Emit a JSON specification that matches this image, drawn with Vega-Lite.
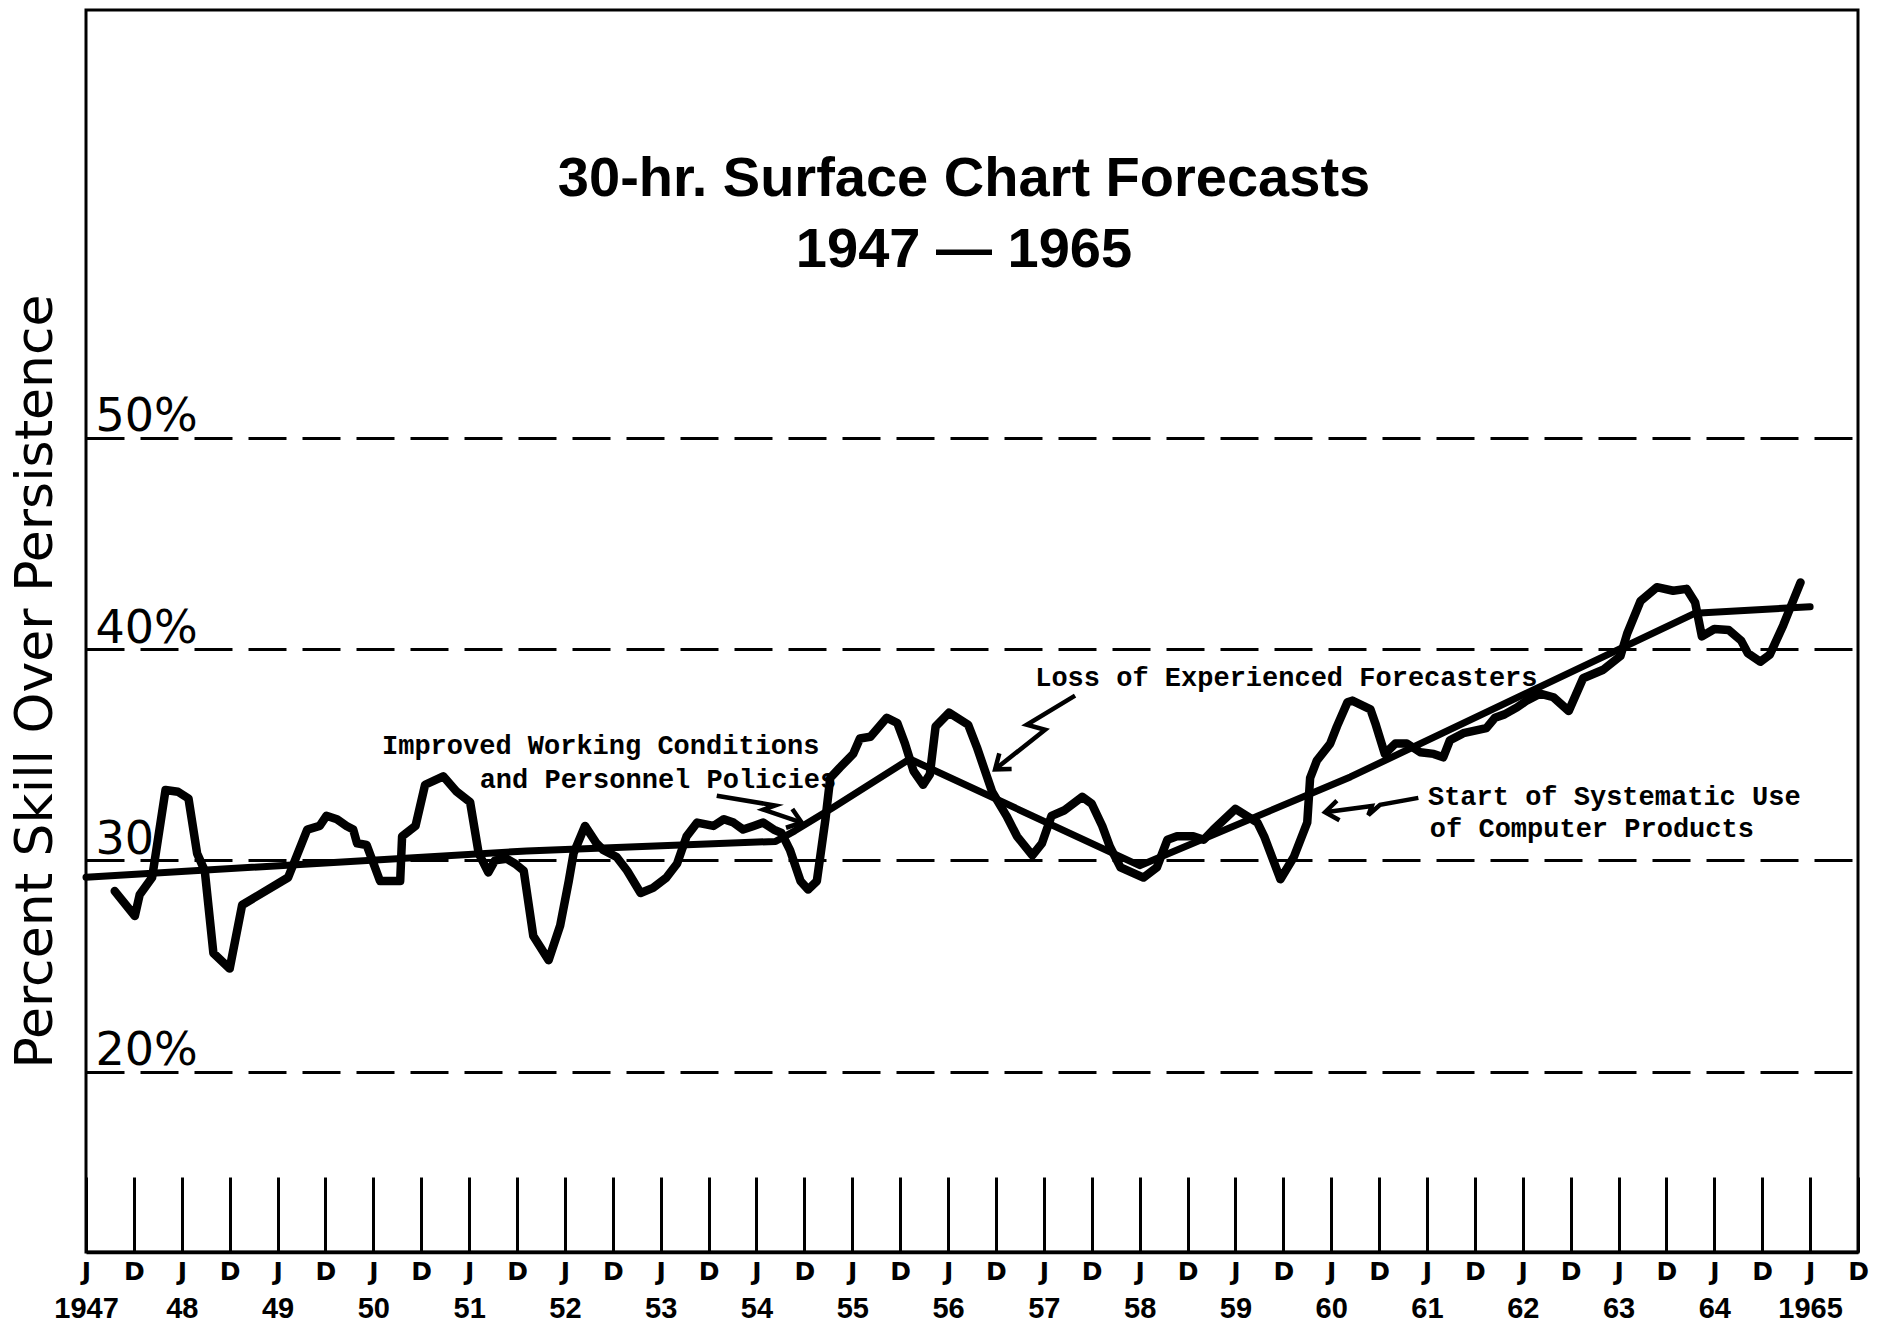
{
  "$schema": "https://vega.github.io/schema/vega-lite/v6.json",
  "width": 1772,
  "height": 1242,
  "autosize": {"type": "none"},
  "padding": {"left": 86, "top": 10, "right": 27, "bottom": 74},
  "background": "white",
  "title": {
    "text": ["30-hr.  Surface Chart Forecasts", "1947 — 1965"],
    "anchor": "middle", "frame": "group", "orient": "top", "baseline": "top",
    "offset": -269, "dx": -8,
    "font": "Liberation Sans", "fontSize": 56, "fontWeight": "bold", "color": "black", "lineHeight": 71
  },
  "config": {"view": {"stroke": "black", "strokeWidth": 3}},
  "datasets": {
    "monthly": [
      {"year":1947.80,"skill":28.55},{"year":1948.01,"skill":27.37},{"year":1948.06,"skill":28.37},{"year":1948.19,"skill":29.19},{"year":1948.33,"skill":33.33},{"year":1948.46,"skill":33.25},{"year":1948.57,"skill":32.93},{"year":1948.66,"skill":30.33},{"year":1948.74,"skill":29.51},{"year":1948.83,"skill":25.61},{"year":1949.00,"skill":24.88},{"year":1949.13,"skill":27.89},{"year":1949.61,"skill":29.19},{"year":1949.81,"skill":31.46},{"year":1949.94,"skill":31.63},{"year":1950.01,"skill":32.11},{"year":1950.12,"skill":31.95},{"year":1950.22,"skill":31.63},{"year":1950.29,"skill":31.46},{"year":1950.33,"skill":30.81},{"year":1950.43,"skill":30.73},{"year":1950.57,"skill":29.02},{"year":1950.78,"skill":29.02},{"year":1950.80,"skill":31.14},{"year":1950.94,"skill":31.63},{"year":1951.04,"skill":33.58},{"year":1951.23,"skill":33.98},{"year":1951.37,"skill":33.25},{"year":1951.51,"skill":32.76},{"year":1951.60,"skill":30.33},{"year":1951.70,"skill":29.43},{"year":1951.77,"skill":30.00},{"year":1951.89,"skill":30.08},{"year":1951.98,"skill":29.84},{"year":1952.07,"skill":29.51},{"year":1952.17,"skill":26.42},{"year":1952.33,"skill":25.28},{"year":1952.45,"skill":26.91},{"year":1952.54,"skill":29.02},{"year":1952.59,"skill":30.33},{"year":1952.71,"skill":31.63},{"year":1952.83,"skill":30.81},{"year":1952.90,"skill":30.49},{"year":1953.04,"skill":30.16},{"year":1953.15,"skill":29.51},{"year":1953.29,"skill":28.46},{"year":1953.42,"skill":28.70},{"year":1953.56,"skill":29.19},{"year":1953.67,"skill":29.84},{"year":1953.77,"skill":31.14},{"year":1953.88,"skill":31.79},{"year":1954.05,"skill":31.63},{"year":1954.16,"skill":31.95},{"year":1954.26,"skill":31.79},{"year":1954.36,"skill":31.46},{"year":1954.47,"skill":31.63},{"year":1954.57,"skill":31.79},{"year":1954.68,"skill":31.46},{"year":1954.76,"skill":31.30},{"year":1954.85,"skill":30.49},{"year":1954.96,"skill":29.02},{"year":1955.04,"skill":28.62},{"year":1955.13,"skill":29.02},{"year":1955.22,"skill":31.95},{"year":1955.27,"skill":33.90},{"year":1955.37,"skill":34.39},{"year":1955.51,"skill":35.04},{"year":1955.58,"skill":35.77},{"year":1955.69,"skill":35.85},{"year":1955.86,"skill":36.75},{"year":1955.97,"skill":36.50},{"year":1956.05,"skill":35.53},{"year":1956.14,"skill":34.23},{"year":1956.24,"skill":33.58},{"year":1956.31,"skill":34.07},{"year":1956.37,"skill":36.34},{"year":1956.51,"skill":36.99},{"year":1956.71,"skill":36.42},{"year":1956.80,"skill":35.37},{"year":1956.96,"skill":33.25},{"year":1957.11,"skill":32.11},{"year":1957.22,"skill":31.14},{"year":1957.38,"skill":30.24},{"year":1957.48,"skill":30.81},{"year":1957.58,"skill":32.11},{"year":1957.71,"skill":32.36},{"year":1957.90,"skill":33.01},{"year":1958.00,"skill":32.68},{"year":1958.11,"skill":31.63},{"year":1958.19,"skill":30.65},{"year":1958.30,"skill":29.67},{"year":1958.54,"skill":29.19},{"year":1958.68,"skill":29.67},{"year":1958.79,"skill":30.98},{"year":1958.89,"skill":31.14},{"year":1959.06,"skill":31.14},{"year":1959.17,"skill":30.98},{"year":1959.27,"skill":31.46},{"year":1959.50,"skill":32.44},{"year":1959.73,"skill":31.79},{"year":1959.80,"skill":31.14},{"year":1959.97,"skill":29.11},{"year":1960.11,"skill":30.16},{"year":1960.25,"skill":31.79},{"year":1960.28,"skill":33.90},{"year":1960.35,"skill":34.72},{"year":1960.49,"skill":35.53},{"year":1960.56,"skill":36.34},{"year":1960.67,"skill":37.48},{"year":1960.72,"skill":37.56},{"year":1960.91,"skill":37.15},{"year":1960.96,"skill":36.50},{"year":1961.06,"skill":35.04},{"year":1961.17,"skill":35.53},{"year":1961.29,"skill":35.53},{"year":1961.43,"skill":35.12},{"year":1961.57,"skill":35.04},{"year":1961.67,"skill":34.88},{"year":1961.74,"skill":35.69},{"year":1961.88,"skill":36.02},{"year":1962.12,"skill":36.26},{"year":1962.21,"skill":36.75},{"year":1962.31,"skill":36.91},{"year":1962.44,"skill":37.24},{"year":1962.54,"skill":37.56},{"year":1962.68,"skill":37.89},{"year":1962.82,"skill":37.72},{"year":1962.98,"skill":37.07},{"year":1963.13,"skill":38.62},{"year":1963.34,"skill":39.02},{"year":1963.52,"skill":39.67},{"year":1963.59,"skill":40.73},{"year":1963.73,"skill":42.28},{"year":1963.90,"skill":42.93},{"year":1964.07,"skill":42.76},{"year":1964.21,"skill":42.85},{"year":1964.30,"skill":42.20},{"year":1964.37,"skill":40.60},{"year":1964.50,"skill":40.95},{"year":1964.65,"skill":40.90},{"year":1964.78,"skill":40.40},{"year":1964.85,"skill":39.80},{"year":1964.98,"skill":39.40},{"year":1965.08,"skill":39.74},{"year":1965.22,"skill":41.13},{"year":1965.33,"skill":42.37},{"year":1965.40,"skill":43.15}
    ],
    "trend": [
      {"year":1947.5,"skill":29.2},{"year":1952.1,"skill":30.45},{"year":1954.7,"skill":30.9},{"year":1954.9,"skill":31.4},{"year":1955.3,"skill":32.5},{"year":1956.1,"skill":34.8},{"year":1958.5,"skill":29.75},{"year":1960.7,"skill":33.95},{"year":1964.3,"skill":41.7},{"year":1965.5,"skill":42.0}
    ],
    "notes": [
      {"year":1950.59,"skill":35.02,"note":"Improved Working Conditions"},
      {"year":1951.61,"skill":33.41,"note":"and Personnel Policies"},
      {"year":1957.41,"skill":38.24,"note":"Loss of Experienced Forecasters"},
      {"year":1961.51,"skill":32.63,"note":"Start of Systematic Use"},
      {"year":1961.53,"skill":31.10,"note":"of Computer Products"}
    ],
    "arrows": [
      {"arrow":"improved","seq":1,"year":1954.085,"skill":33.06,"tip":false},
      {"arrow":"improved","seq":2,"year":1954.694,"skill":32.60,"tip":false},
      {"arrow":"improved","seq":3,"year":1954.572,"skill":32.40,"tip":false},
      {"arrow":"improved","seq":4,"year":1954.972,"skill":31.79,"tip":true},
      {"arrow":"loss","seq":1,"year":1957.826,"skill":37.80,"tip":false},
      {"arrow":"loss","seq":2,"year":1957.322,"skill":36.42,"tip":false},
      {"arrow":"loss","seq":3,"year":1957.513,"skill":36.18,"tip":false},
      {"arrow":"loss","seq":4,"year":1956.991,"skill":34.31,"tip":true},
      {"arrow":"start","seq":1,"year":1961.410,"skill":32.96,"tip":false},
      {"arrow":"start","seq":2,"year":1961.010,"skill":32.63,"tip":false},
      {"arrow":"start","seq":3,"year":1960.888,"skill":32.15,"tip":false},
      {"arrow":"start","seq":4,"year":1960.924,"skill":32.57,"tip":false},
      {"arrow":"start","seq":5,"year":1960.436,"skill":32.28,"tip":true}
    ]
  },
  "resolve": {"axis": {"x": "independent"}},
  "layer": [
    {
      "data": {"name": "monthly"},
      "mark": {"type": "line", "stroke": "black", "strokeWidth": 8.5, "strokeJoin": "round", "strokeCap": "round"},
      "encoding": {
        "x": {
          "field": "year", "type": "quantitative",
          "scale": {"domain": [1947.5, 1966], "nice": false, "zero": false},
          "axis": {
            "orient": "bottom", "title": null, "grid": false,
            "values": [1947.5,1948,1948.5,1949,1949.5,1950,1950.5,1951,1951.5,1952,1952.5,1953,1953.5,1954,1954.5,1955,1955.5,1956,1956.5,1957,1957.5,1958,1958.5,1959,1959.5,1960,1960.5,1961,1961.5,1962,1962.5,1963,1963.5,1964,1964.5,1965,1965.5,1966],
            "labelExpr": "datum.value % 1 > 0.25 ? 'J' : 'D'",
            "ticks": true, "tickSize": -75, "tickWidth": 3, "tickColor": "black",
            "domain": true, "domainWidth": 3.5, "domainColor": "black",
            "labelPadding": 94, "labelBaseline": "middle", "labelAlign": "center",
            "labelFont": "DejaVu Sans", "labelFontWeight": "bold", "labelFontSize": 25, "labelColor": "black",
            "labelOverlap": false, "labelFlush": false
          }
        },
        "y": {
          "field": "skill", "type": "quantitative",
          "scale": {"domain": [11.47, 70.24], "nice": false, "zero": false},
          "axis": {
            "title": "Percent Skill Over Persistence",
            "values": [20, 30, 40, 50],
            "labelExpr": "datum.value == 30 ? '30' : datum.value + '%'",
            "grid": true, "gridColor": "black", "gridWidth": 3, "gridDash": [38, 16], "gridOpacity": 1,
            "ticks": false, "domain": false,
            "labelAlign": "left", "labelBaseline": "alphabetic", "labelPadding": -9, "labelOffset": -7,
            "labelFont": "DejaVu Sans", "labelFontSize": 46, "labelColor": "black",
            "titleFont": "DejaVu Sans", "titleFontSize": 52, "titleFontWeight": "normal", "titleColor": "black",
            "titleAngle": -90, "titleAlign": "center", "titleBaseline": "alphabetic", "titleX": -35, "titleY": 671
          }
        }
      }
    },
    {
      "data": {"name": "trend"},
      "mark": {"type": "line", "stroke": "black", "strokeWidth": 7, "strokeJoin": "round", "strokeCap": "round"},
      "encoding": {
        "x": {
          "field": "year", "type": "quantitative",
          "axis": {
            "orient": "bottom", "title": null, "grid": false, "ticks": false, "domain": false,
            "values": [1947.5,1948.5,1949.5,1950.5,1951.5,1952.5,1953.5,1954.5,1955.5,1956.5,1957.5,1958.5,1959.5,1960.5,1961.5,1962.5,1963.5,1964.5,1965.5],
            "labelExpr": "(datum.value < 1948 || datum.value > 1965) ? format(floor(datum.value), 'd') : format(floor(datum.value) % 100, '02d')",
            "labelPadding": 56, "labelBaseline": "middle", "labelAlign": "center",
            "labelFont": "Liberation Sans", "labelFontWeight": "bold", "labelFontSize": 29, "labelColor": "black",
            "labelOverlap": false, "labelFlush": false
          }
        },
        "y": {"field": "skill", "type": "quantitative"}
      }
    },
    {
      "data": {"name": "notes"},
      "mark": {"type": "text", "align": "left", "baseline": "alphabetic", "font": "Liberation Mono", "fontSize": 27, "fontWeight": "bold", "color": "black"},
      "encoding": {
        "x": {"field": "year", "type": "quantitative", "axis": null},
        "y": {"field": "skill", "type": "quantitative"},
        "text": {"field": "note"}
      }
    },
    {
      "data": {"name": "arrows"},
      "mark": {"type": "line", "stroke": "black", "strokeWidth": 4.5, "strokeJoin": "miter"},
      "encoding": {
        "x": {"field": "year", "type": "quantitative", "axis": null},
        "y": {"field": "skill", "type": "quantitative"},
        "detail": {"field": "arrow"},
        "order": {"field": "seq"}
      }
    },
    {
      "data": {"name": "arrows"},
      "transform": [{"filter": "datum.tip && datum.arrow == 'improved'"}],
      "mark": {"type": "point", "shape": "M-1,-0.75L0,0L-1,0.75", "filled": false, "stroke": "black", "strokeWidth": 4.5, "size": 700, "angle": 18.6, "opacity": 1},
      "encoding": {
        "x": {"field": "year", "type": "quantitative", "axis": null},
        "y": {"field": "skill", "type": "quantitative"}
      }
    },
    {
      "data": {"name": "arrows"},
      "transform": [{"filter": "datum.tip && datum.arrow == 'loss'"}],
      "mark": {"type": "point", "shape": "M-1,-0.75L0,0L-1,0.75", "filled": false, "stroke": "black", "strokeWidth": 4.5, "size": 700, "angle": 141.7, "opacity": 1},
      "encoding": {
        "x": {"field": "year", "type": "quantitative", "axis": null},
        "y": {"field": "skill", "type": "quantitative"}
      }
    },
    {
      "data": {"name": "arrows"},
      "transform": [{"filter": "datum.tip && datum.arrow == 'start'"}],
      "mark": {"type": "point", "shape": "M-1,-0.75L0,0L-1,0.75", "filled": false, "stroke": "black", "strokeWidth": 4.5, "size": 700, "angle": 172.5, "opacity": 1},
      "encoding": {
        "x": {"field": "year", "type": "quantitative", "axis": null},
        "y": {"field": "skill", "type": "quantitative"}
      }
    }
  ]
}
